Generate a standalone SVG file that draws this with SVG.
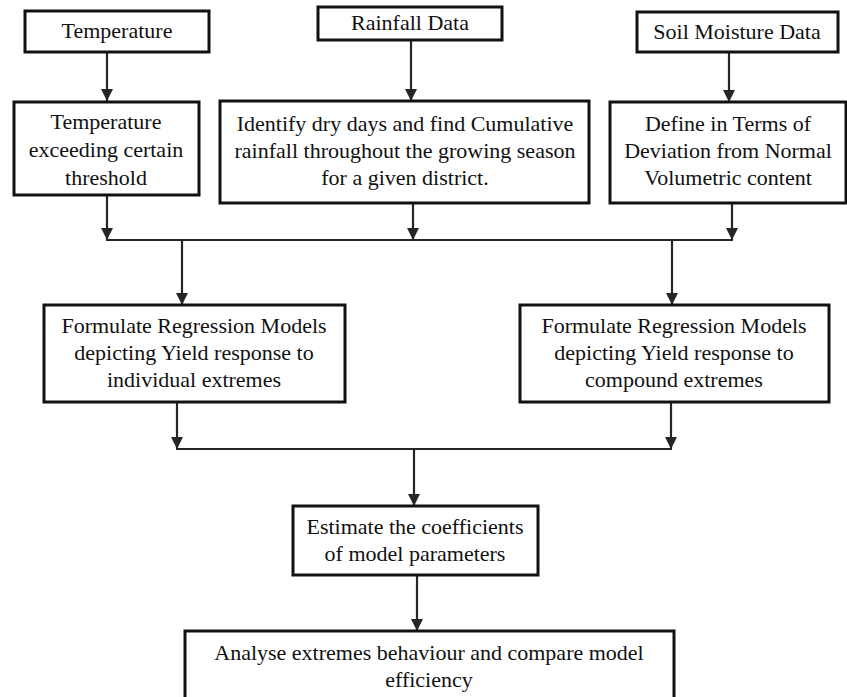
<svg xmlns="http://www.w3.org/2000/svg" width="847" height="697" viewBox="0 0 847 697">
<style>
.box{fill:#fff;stroke:#111;stroke-width:3}
.t{font-family:"Liberation Serif","Times New Roman",serif;font-size:22px;fill:#111;text-anchor:middle}
.c{fill:none;stroke:#262626;stroke-width:2.2}
</style>
<defs>
<marker id="ah" markerUnits="userSpaceOnUse" markerWidth="13" markerHeight="14" refX="12" refY="6" orient="auto">
<path d="M0,0 L12,6 L0,12 Z" fill="#262626"/>
</marker>
</defs>
<rect width="847" height="697" fill="#fff"/>
<g id="connectors">
<line class="c" x1="107" y1="52" x2="107" y2="101" marker-end="url(#ah)"/>
<line class="c" x1="411" y1="40" x2="411" y2="101" marker-end="url(#ah)"/>
<line class="c" x1="729" y1="52" x2="729" y2="102" marker-end="url(#ah)"/>
<line class="c" x1="107" y1="195" x2="107" y2="240" marker-end="url(#ah)"/>
<line class="c" x1="413" y1="196" x2="413" y2="240" marker-end="url(#ah)"/>
<line class="c" x1="732" y1="203" x2="732" y2="240" marker-end="url(#ah)"/>
<line class="c" x1="106" y1="240" x2="733" y2="240"/>
<line class="c" x1="182" y1="240" x2="182" y2="305" marker-end="url(#ah)"/>
<line class="c" x1="672" y1="240" x2="672" y2="305" marker-end="url(#ah)"/>
<line class="c" x1="177" y1="402" x2="177" y2="449" marker-end="url(#ah)"/>
<line class="c" x1="671" y1="402" x2="671" y2="449" marker-end="url(#ah)"/>
<line class="c" x1="176" y1="449" x2="672" y2="449"/>
<line class="c" x1="414" y1="449" x2="414" y2="506" marker-end="url(#ah)"/>
<line class="c" x1="417" y1="575" x2="417" y2="631" marker-end="url(#ah)"/>
</g>
<g id="temperature">
<rect class="box" x="25" y="11" width="184" height="41"/>
<text class="t" x="117" y="38">Temperature</text>
</g>
<g id="rainfall">
<rect class="box" x="318" y="7" width="184" height="33"/>
<text class="t" x="410" y="30">Rainfall Data</text>
</g>
<g id="soil">
<rect class="box" x="637" y="12" width="201" height="40"/>
<text class="t" x="737" y="39">Soil Moisture Data</text>
</g>
<g id="temp-threshold">
<rect class="box" x="14" y="102" width="185" height="93"/>
<text class="t" x="106" y="129">Temperature</text>
<text class="t" x="106" y="157">exceeding certain</text>
<text class="t" x="106" y="185">threshold</text>
</g>
<g id="dry-days">
<rect class="box" x="220" y="101" width="369" height="102"/>
<text class="t" x="405" y="131">Identify dry days and find Cumulative</text>
<text class="t" x="405" y="158">rainfall throughout the growing season</text>
<text class="t" x="405" y="185">for a given district.</text>
</g>
<g id="deviation">
<rect class="box" x="610" y="102" width="236" height="101"/>
<text class="t" x="728" y="131">Define in Terms of</text>
<text class="t" x="728" y="158">Deviation from Normal</text>
<text class="t" x="728" y="185">Volumetric content</text>
</g>
<g id="individual">
<rect class="box" x="44" y="305" width="301" height="97"/>
<text class="t" x="194" y="333">Formulate Regression Models</text>
<text class="t" x="194" y="360">depicting Yield response to</text>
<text class="t" x="194" y="387">individual extremes</text>
</g>
<g id="compound">
<rect class="box" x="520" y="305" width="309" height="97"/>
<text class="t" x="674" y="333">Formulate Regression Models</text>
<text class="t" x="674" y="360">depicting Yield response to</text>
<text class="t" x="674" y="387">compound extremes</text>
</g>
<g id="estimate">
<rect class="box" x="293" y="506" width="245" height="69"/>
<text class="t" x="415" y="534">Estimate the coefficients</text>
<text class="t" x="415" y="561">of model parameters</text>
</g>
<g id="analyse">
<rect class="box" x="185" y="631" width="489" height="75"/>
<text class="t" x="429" y="660">Analyse extremes behaviour and compare model</text>
<text class="t" x="429" y="687">efficiency</text>
</g>
</svg>
